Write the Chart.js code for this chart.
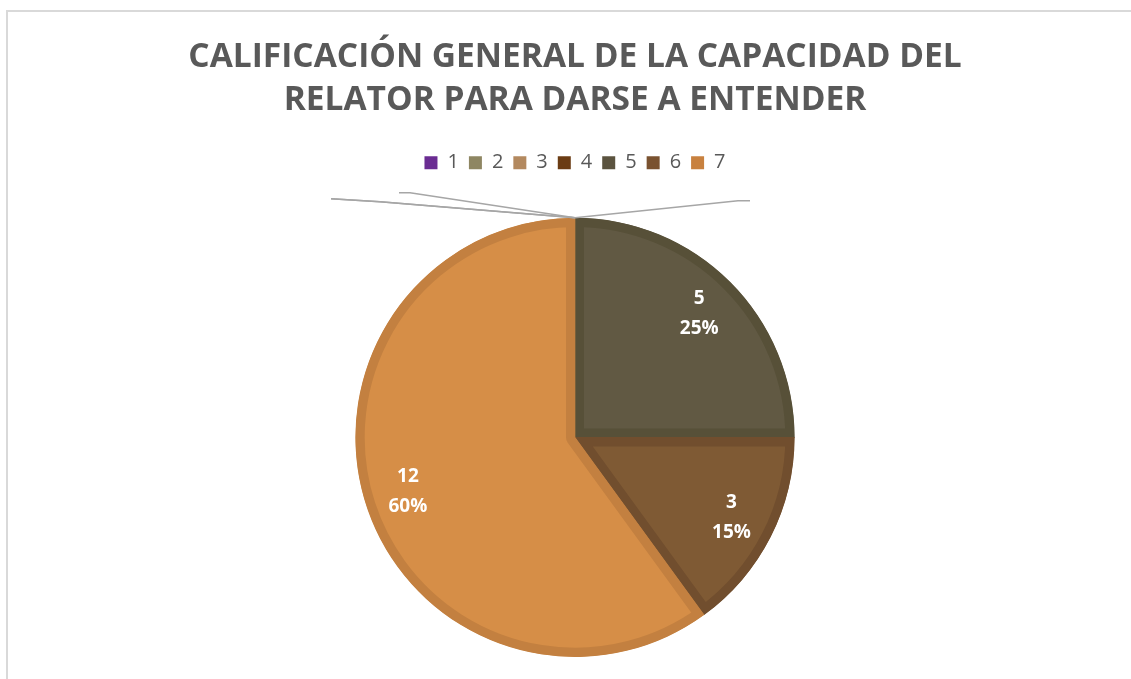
<!DOCTYPE html>
<html>
<head>
<meta charset="utf-8">
<script src="https://cdn.jsdelivr.net/npm/chart.js@4.4.0/dist/chart.umd.min.js"></script>
<style>
  html, body { margin: 0; padding: 0; background: #fff; overflow: hidden; }
  #frame { position: absolute; left: 6px; top: 10px; width: 1200px; height: 800px;
           border-left: 2px solid #d9d9d9; border-top: 2px solid #d9d9d9; }
  #wrap { position: absolute; left: 0; top: 0; width: 1131px; height: 679px; }
</style>
</head>
<body>
<div id="frame"></div>
<div id="wrap"><canvas id="pieChart"></canvas></div>
<script>
const categories = ['1', '2', '3', '4', '5', '6', '7'];
const counts = [0, 0, 0, 0, 5, 3, 12];
const titleLines = ['CALIFICACIÓN GENERAL DE LA CAPACIDAD DEL', 'RELATOR PARA DARSE A ENTENDER'];

const sliceColors = ['#7030a0', '#8e8662', '#b3895f', '#6b3c14', '#615943', '#7f5a34', '#d68e47'];
const sliceBorders = ['#7030a0', '#8e8662', '#b3895f', '#6b3c14', '#575038', '#714e2e', '#c38040'];
const legendColors = ['#6a2c92', '#8e8662', '#b3895f', '#6b3c14', '#5b533f', '#7a5230', '#c8813f'];

// leader lines for the empty slices (offsets from the slice start point)
const leaderOffsets = [
  { elbow: [163, -17], end: [175, -17] },
  { elbow: [-165, -25], end: [-176, -25] },
  { elbow: [-195, -16], end: [-244, -19] },
  { elbow: [-195, -16], end: [-244, -19] }
];

const legendGap = {
  id: 'legendGap',
  beforeLayout(chart) {
    if (chart.legend && !chart.legend._gapPatched) {
      const origFit = chart.legend.fit;
      chart.legend.fit = function () {
        origFit.call(this);
        this.height += 35;
      };
      chart.legend._gapPatched = true;
    }
  }
};

const sliceLabels = {
  id: 'sliceLabels',
  afterDatasetsDraw(chart) {
    const ctx = chart.ctx;
    const meta = chart.getDatasetMeta(0);
    const data = chart.data.datasets[0].data;
    const total = data.reduce((a, b) => a + b, 0);
    ctx.save();
    // leader lines
    ctx.strokeStyle = '#a6a6a6';
    ctx.lineWidth = 1.5;
    meta.data.forEach((arc, i) => {
      if (data[i] !== 0 || !leaderOffsets[i]) return;
      const ax = arc.x + Math.cos(arc.startAngle) * arc.outerRadius;
      const ay = arc.y + Math.sin(arc.startAngle) * arc.outerRadius;
      const o = leaderOffsets[i];
      ctx.beginPath();
      ctx.moveTo(ax, ay);
      ctx.lineTo(ax + o.elbow[0], ay + o.elbow[1]);
      ctx.lineTo(ax + o.end[0], ay + o.end[1]);
      ctx.stroke();
    });
    // value labels
    ctx.fillStyle = '#ffffff';
    ctx.font = 'bold 19px "Open Sans"';
    ctx.textAlign = 'center';
    ctx.textBaseline = 'middle';
    meta.data.forEach((arc, i) => {
      if (data[i] === 0) return;
      const mid = (arc.startAngle + arc.endAngle) / 2;
      const r = arc.outerRadius * 0.8;
      const x = arc.x + Math.cos(mid) * r;
      const y = arc.y + Math.sin(mid) * r;
      const pct = Math.round(data[i] / total * 100) + '%';
      ctx.fillText(String(data[i]), x, y - 15);
      ctx.fillText(pct, x, y + 15);
    });
    ctx.restore();
  }
};

const ctx = document.getElementById('pieChart').getContext('2d');
const pieChart = new Chart(ctx, {
  type: 'pie',
  data: {
    labels: categories,
    datasets: [{
      data: counts,
      backgroundColor: sliceColors,
      borderColor: sliceBorders,
      borderWidth: 9,
      borderAlign: 'inner'
    }]
  },
  options: {
    responsive: true,
    maintainAspectRatio: false,
    animation: false,
    layout: { padding: { left: 19, bottom: 22 } },
    plugins: {
      title: {
        display: true,
        text: titleLines,
        color: '#595959',
        font: { family: '"Open Sans"', size: 33.5, weight: 'bold', lineHeight: 1.28 },
        padding: { top: 36, bottom: 21 }
      },
      legend: {
        position: 'top',
        labels: {
          color: '#595959',
          font: { family: '"Open Sans"', size: 20 },
          boxWidth: 13,
          boxHeight: 13,
          padding: 10,
          generateLabels(chart) {
            return categories.map((c, i) => ({
              text: c,
              fillStyle: legendColors[i],
              strokeStyle: legendColors[i],
              lineWidth: 0,
              fontColor: '#595959',
              hidden: false,
              index: i
            }));
          }
        }
      },
      tooltip: { enabled: false }
    }
  },
  plugins: [legendGap, sliceLabels]
});
</script>
</body>
</html>
